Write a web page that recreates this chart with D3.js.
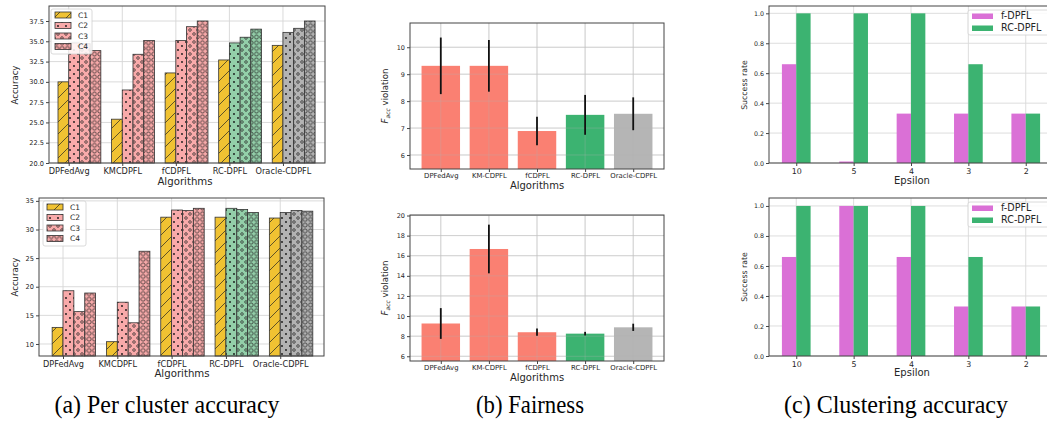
<!DOCTYPE html>
<html>
<head>
<meta charset="utf-8">
<script src="https://cdn.jsdelivr.net/npm/d3@7"></script>
<style>
body { margin: 0; background: #fff; }
svg { display: block; }
text { font-family: "DejaVu Sans", sans-serif; fill: #262626; }
</style>
</head>
<body>
<script>
// ---- data ----
var algosA = ['DPFedAvg', 'KMCDPFL', 'fCDPFL', 'RC-DPFL', 'Oracle-CDPFL'];
var clusters = ['C1', 'C2', 'C3', 'C4'];
// rows = clusters C1..C4, cols = algorithms
var accTop = [
  [30.0, 25.4, 31.1, 32.7, 34.5],
  [34.8, 29.0, 35.1, 34.8, 36.1],
  [34.7, 33.4, 36.8, 35.5, 36.6],
  [33.85, 35.1, 37.5, 36.5, 37.5]
];
var accBottom = [
  [12.9, 10.4, 32.15, 32.15, 32.0],
  [19.3, 17.3, 33.4, 33.7, 32.95],
  [15.65, 13.7, 33.3, 33.5, 33.3],
  [18.9, 26.2, 33.7, 32.95, 33.2]
];
var accTicksTop = [20, 22.5, 25, 27.5, 30, 32.5, 35, 37.5];
var accTicksBottom = [10, 15, 20, 25, 30, 35];

var algosB = ['DPFedAvg', 'KM-CDPFL', 'fCDPFL', 'RC-DPFL', 'Oracle-CDPFL'];
var fairTop = [9.31, 9.31, 6.89, 7.49, 7.53];
var fairTopErr = [1.05, 0.96, 0.53, 0.74, 0.61];
var fairBottom = [9.26, 16.67, 8.39, 8.25, 8.88];
var fairBottomErr = [1.53, 2.42, 0.36, 0.18, 0.36];
var fairTicksTop = [6, 7, 8, 9, 10];
var fairTicksBottom = [6, 8, 10, 12, 14, 16, 18, 20];

var epsilons = ['10', '5', '4', '3', '2'];
var methodsC = ['f-DPFL', 'RC-DPFL'];
var succTopF = [0.66, 0.01, 0.33, 0.33, 0.33];
var succTopRC = [1.0, 1.0, 1.0, 0.66, 0.33];
var succBottomF = [0.66, 1.0, 0.66, 0.33, 0.33];
var succBottomRC = [1.0, 1.0, 1.0, 0.66, 0.33];
var succTicks = [0, 0.2, 0.4, 0.6, 0.8, 1.0];

// ---- colours ----
var gold = '#f0c232';
var pink = '#f9aaaa';
var paleGreen = '#93cfa9';
var paleGray = '#b3b3b3';
var groupColorA = [pink, pink, pink, paleGreen, paleGray];
var salmon = '#fa8072';
var green = '#3cb371';
var colorB = [salmon, salmon, salmon, green, '#b5b5b5'];
var colorC = ['#da70d6', '#3cb371'];

var svg = d3.select('body').append('svg')
  .attr('width', 1047)
  .attr('height', 423);

// hatch patterns
var defs = svg.append('defs');
var pSlash = defs.append('pattern').attr('id', 'h-slash')
  .attr('patternUnits', 'userSpaceOnUse').attr('width', 12).attr('height', 12);
pSlash.append('path').attr('d', 'M0,12L12,0M-3,3L3,-3M9,15L15,9')
  .attr('stroke', '#222').attr('stroke-width', 0.7);

var pDot = defs.append('pattern').attr('id', 'h-dot')
  .attr('patternUnits', 'userSpaceOnUse').attr('width', 8).attr('height', 8);
pDot.append('circle').attr('cx', 2).attr('cy', 2).attr('r', 0.9).attr('fill', '#111');
pDot.append('circle').attr('cx', 6).attr('cy', 6).attr('r', 0.9).attr('fill', '#111');

var pSmallO = defs.append('pattern').attr('id', 'h-o')
  .attr('patternUnits', 'userSpaceOnUse').attr('width', 8).attr('height', 8);
pSmallO.append('circle').attr('cx', 2).attr('cy', 2).attr('r', 1.3)
  .attr('fill', 'none').attr('stroke', '#222').attr('stroke-width', 0.7);
pSmallO.append('circle').attr('cx', 6).attr('cy', 6).attr('r', 1.3)
  .attr('fill', 'none').attr('stroke', '#222').attr('stroke-width', 0.7);

var pBigO = defs.append('pattern').attr('id', 'h-bigo')
  .attr('patternUnits', 'userSpaceOnUse').attr('width', 5.4).attr('height', 5.7);
pBigO.append('circle').attr('cx', 2.7).attr('cy', 2.85).attr('r', 2.0)
  .attr('fill', 'none').attr('stroke', '#222').attr('stroke-width', 0.7);

var hatches = ['url(#h-slash)', 'url(#h-dot)', 'url(#h-o)', 'url(#h-bigo)'];

// ---- helpers ----
function makeAxes(lay, xDom, yDom) {
  var x = d3.scaleLinear().domain(xDom).range([lay.left, lay.right]);
  var y = d3.scaleLinear().domain(yDom).range([lay.bottom, lay.top]);
  return { x: x, y: y };
}

function drawGrid(g, s, lay, xVals, yVals, color, opacity) {
  g.append('g').selectAll('line.v').data(xVals).enter().append('line')
    .attr('x1', function(d) { return s.x(d); })
    .attr('x2', function(d) { return s.x(d); })
    .attr('y1', lay.top).attr('y2', lay.bottom)
    .attr('stroke', color).attr('stroke-opacity', opacity).attr('stroke-width', 0.9);
  g.append('g').selectAll('line.h').data(yVals).enter().append('line')
    .attr('x1', lay.left).attr('x2', lay.right)
    .attr('y1', function(d) { return s.y(d); })
    .attr('y2', function(d) { return s.y(d); })
    .attr('stroke', color).attr('stroke-opacity', opacity).attr('stroke-width', 0.9);
}

function drawFrame(g, s, lay, xVals, xLabels, yVals, yFmt, xFont, yFont, pad) {
  var ax = d3.axisBottom(s.x).tickValues(xVals)
    .tickFormat(function(d, i) { return xLabels[i]; })
    .tickSize(3).tickPadding(pad);
  var gx = g.append('g').attr('transform', 'translate(0,' + lay.bottom + ')').call(ax);
  gx.select('.domain').remove();
  gx.selectAll('line').attr('stroke', '#444');
  gx.selectAll('text').style('font-size', xFont + 'px').attr('fill', '#262626')
    .style('font-family', '"DejaVu Sans", sans-serif');

  var ay = d3.axisLeft(s.y).tickValues(yVals).tickFormat(d3.format(yFmt))
    .tickSize(3).tickPadding(2);
  var gy = g.append('g').attr('transform', 'translate(' + lay.left + ',0)').call(ay);
  gy.select('.domain').remove();
  gy.selectAll('line').attr('stroke', '#444');
  gy.selectAll('text').style('font-size', yFont + 'px').attr('fill', '#262626')
    .style('font-family', '"DejaVu Sans", sans-serif');

  g.append('rect')
    .attr('x', lay.left).attr('y', lay.top)
    .attr('width', lay.right - lay.left).attr('height', lay.bottom - lay.top)
    .attr('fill', 'none').attr('stroke', '#444').attr('stroke-width', 1);
}

function xLabel(txt, x, y, size) {
  svg.append('text').attr('x', x).attr('y', y).attr('text-anchor', 'middle')
    .style('font-size', size + 'px').text(txt);
}
function yLabel(txt, x, y, size) {
  svg.append('text').attr('transform', 'translate(' + x + ',' + y + ') rotate(-90)')
    .attr('text-anchor', 'middle').attr('dy', '0.35em')
    .style('font-size', size + 'px').text(txt);
}

// ---- (a) per cluster accuracy ----
var barW = 0.2;
function drawAccuracy(lay, data, xDom, yDom, yTicks, legendBox) {
  var s = makeAxes(lay, xDom, yDom);
  var g = svg.append('g');
  drawGrid(g, s, lay, d3.range(algosA.length), yTicks, '#d6d6d6', 1);

  data.forEach(function(row, ci) {
    var bars = g.append('g').selectAll('g').data(row).enter().append('g');
    // C1 sits left of the tick, C2..C4 to the right
    var x0 = function(d, i) { return s.x(i + (ci - 1) * barW); };
    var w = s.x(barW) - s.x(0);
    bars.append('rect')
      .attr('x', x0).attr('y', function(d) { return s.y(d); })
      .attr('width', w).attr('height', function(d) { return lay.bottom - s.y(d); })
      .attr('fill', function(d, i) { return ci === 0 ? gold : groupColorA[i]; });
    bars.append('rect')
      .attr('x', x0).attr('y', function(d) { return s.y(d); })
      .attr('width', w).attr('height', function(d) { return lay.bottom - s.y(d); })
      .attr('fill', hatches[ci])
      .attr('stroke', '#333').attr('stroke-width', 0.8);
  });

  drawFrame(g, s, lay, d3.range(algosA.length), algosA, yTicks, yTicks[1] % 1 ? '.1f' : 'd', 8.2, 6.6, 2);

  // legend
  var lg = svg.append('g');
  lg.append('rect')
    .attr('x', legendBox.x).attr('y', legendBox.y)
    .attr('width', legendBox.w).attr('height', legendBox.h)
    .attr('rx', 2).attr('fill', '#fff').attr('fill-opacity', 0.85)
    .attr('stroke', '#d0d0d0').attr('stroke-width', 0.8);
  clusters.forEach(function(c, i) {
    var cy = legendBox.y + 6 + i * 10.5;
    lg.append('rect').attr('x', legendBox.x + 4).attr('y', cy - 3)
      .attr('width', 16).attr('height', 6)
      .attr('fill', i === 0 ? gold : pink);
    lg.append('rect').attr('x', legendBox.x + 4).attr('y', cy - 3)
      .attr('width', 16).attr('height', 6)
      .attr('fill', hatches[i]).attr('stroke', '#333').attr('stroke-width', 0.8);
    lg.append('text').attr('x', legendBox.x + 27).attr('y', cy).attr('dy', '0.35em')
      .style('font-size', '7.5px').text(c);
  });
}

var layA1 = { left: 49, right: 325, top: 6, bottom: 163 };
var layA2 = { left: 39, right: 324, top: 198, bottom: 356 };
drawAccuracy(layA1, accTop, [-0.368, 4.785], [20, 39.35], accTicksTop, { x: 51, y: 9, w: 41, h: 45 });
drawAccuracy(layA2, accBottom, [-0.442, 4.806], [7.9, 35.5], accTicksBottom, { x: 43, y: 201, w: 43, h: 45 });
xLabel('Algorithms', 185, 185, 10.2);
xLabel('Algorithms', 182, 377, 10.2);
yLabel('Accuracy', 15, 85, 8.5);
yLabel('Accuracy', 15, 277, 8.5);

// ---- (b) fairness ----
function drawFairness(lay, vals, errs, yDom, yTicks) {
  var s = makeAxes(lay, [-0.64, 4.64], yDom);
  var g = svg.append('g');
  drawGrid(g, s, lay, d3.range(algosB.length), yTicks, '#d9d9d9', 1);
  g.append('g').selectAll('rect').data(vals).enter().append('rect')
    .attr('x', function(d, i) { return s.x(i - 0.4); })
    .attr('y', function(d) { return s.y(d); })
    .attr('width', s.x(0.8) - s.x(0))
    .attr('height', function(d) { return lay.bottom - s.y(d); })
    .attr('fill', function(d, i) { return colorB[i]; });
  // grid shows faintly over the bars
  drawGrid(g, s, lay, d3.range(algosB.length), yTicks, '#b0b0b0', 0.35);
  g.append('g').selectAll('line').data(vals).enter().append('line')
    .attr('x1', function(d, i) { return s.x(i); })
    .attr('x2', function(d, i) { return s.x(i); })
    .attr('y1', function(d, i) { return s.y(d - errs[i]); })
    .attr('y2', function(d, i) { return s.y(d + errs[i]); })
    .attr('stroke', '#111').attr('stroke-width', 1.8);
  drawFrame(g, s, lay, d3.range(algosB.length), algosB, yTicks, 'd', 6.9, 6.5, 1.5);
}
var layB1 = { left: 410, right: 664, top: 23, bottom: 169 };
var layB2 = { left: 410, right: 664, top: 215, bottom: 361 };
drawFairness(layB1, fairTop, fairTopErr, [5.48, 10.9], fairTicksTop);
drawFairness(layB2, fairBottom, fairBottomErr, [5.53, 20.05], fairTicksBottom);
xLabel('Algorithms', 537, 189, 10);
xLabel('Algorithms', 537, 381, 10);

function fairLabel(x, y) {
  var t = svg.append('text').attr('transform', 'translate(' + x + ',' + y + ') rotate(-90)')
    .attr('text-anchor', 'middle').attr('dy', '0.35em').style('font-size', '8.6px');
  t.append('tspan').style('font-style', 'italic').text('F');
  t.append('tspan').style('font-style', 'italic').style('font-size', '6px')
    .attr('dy', '2').text('acc');
  t.append('tspan').attr('dy', '-2').text(' violation');
}
fairLabel(385, 96);
fairLabel(385, 288);

// ---- (c) clustering accuracy ----
function drawSuccess(lay, fVals, rcVals, yDom, legendY) {
  var s = makeAxes(lay, [-0.475, 4.475], yDom);
  var g = svg.append('g');
  drawGrid(g, s, lay, d3.range(epsilons.length), succTicks, '#d9d9d9', 1);
  var w = s.x(0.25) - s.x(0);
  [fVals, rcVals].forEach(function(series, k) {
    g.append('g').selectAll('rect').data(series).enter().append('rect')
      .attr('x', function(d, i) { return s.x(i - 0.25 + k * 0.25); })
      .attr('y', function(d) { return s.y(d); })
      .attr('width', w)
      .attr('height', function(d) { return lay.bottom - s.y(d); })
      .attr('fill', colorC[k]);
  });
  drawFrame(g, s, lay, d3.range(epsilons.length), epsilons, succTicks, '.1f', 7.9, 6.3, 2);

  var lg = svg.append('g');
  lg.append('rect').attr('x', 968).attr('y', legendY).attr('width', 90).attr('height', 25)
    .attr('rx', 2).attr('fill', '#fff').attr('fill-opacity', 0.85)
    .attr('stroke', '#d0d0d0').attr('stroke-width', 0.8);
  methodsC.forEach(function(m, i) {
    var cy = legendY + 6 + i * 12;
    lg.append('rect').attr('x', 972).attr('y', cy - 2.5).attr('width', 21).attr('height', 5.5)
      .attr('fill', colorC[i]);
    lg.append('text').attr('x', 1001).attr('y', cy).attr('dy', '0.35em')
      .style('font-size', '9.6px').text(m);
  });
}
var layC1 = { left: 769, right: 1053, top: 6, bottom: 163 };
var layC2 = { left: 769, right: 1053, top: 198, bottom: 356 };
drawSuccess(layC1, succTopF, succTopRC, [0, 1.049], 10);
drawSuccess(layC2, succBottomF, succBottomRC, [0, 1.053], 202);
xLabel('Epsilon', 912, 184, 10);
xLabel('Epsilon', 912, 376, 10);
yLabel('Success rate', 744, 85, 7.8);
yLabel('Success rate', 744, 277, 7.8);

// ---- captions ----
var captions = ['(a) Per cluster accuracy', '(b) Fairness', '(c) Clustering accuracy'];
var captionX = [167, 530, 896];
var captionW = [225, 108, 224];
svg.selectAll('text.caption').data(captions).enter().append('text')
  .attr('class', 'caption')
  .attr('x', function(d, i) { return captionX[i]; })
  .attr('y', 413)
  .attr('text-anchor', 'middle')
  .attr('textLength', function(d, i) { return captionW[i]; })
  .attr('lengthAdjust', 'spacingAndGlyphs')
  .style('font-family', '"Liberation Serif", serif')
  .style('font-size', '25px')
  .style('fill', '#000')
  .text(function(d) { return d; });
</script>
</body>
</html>
